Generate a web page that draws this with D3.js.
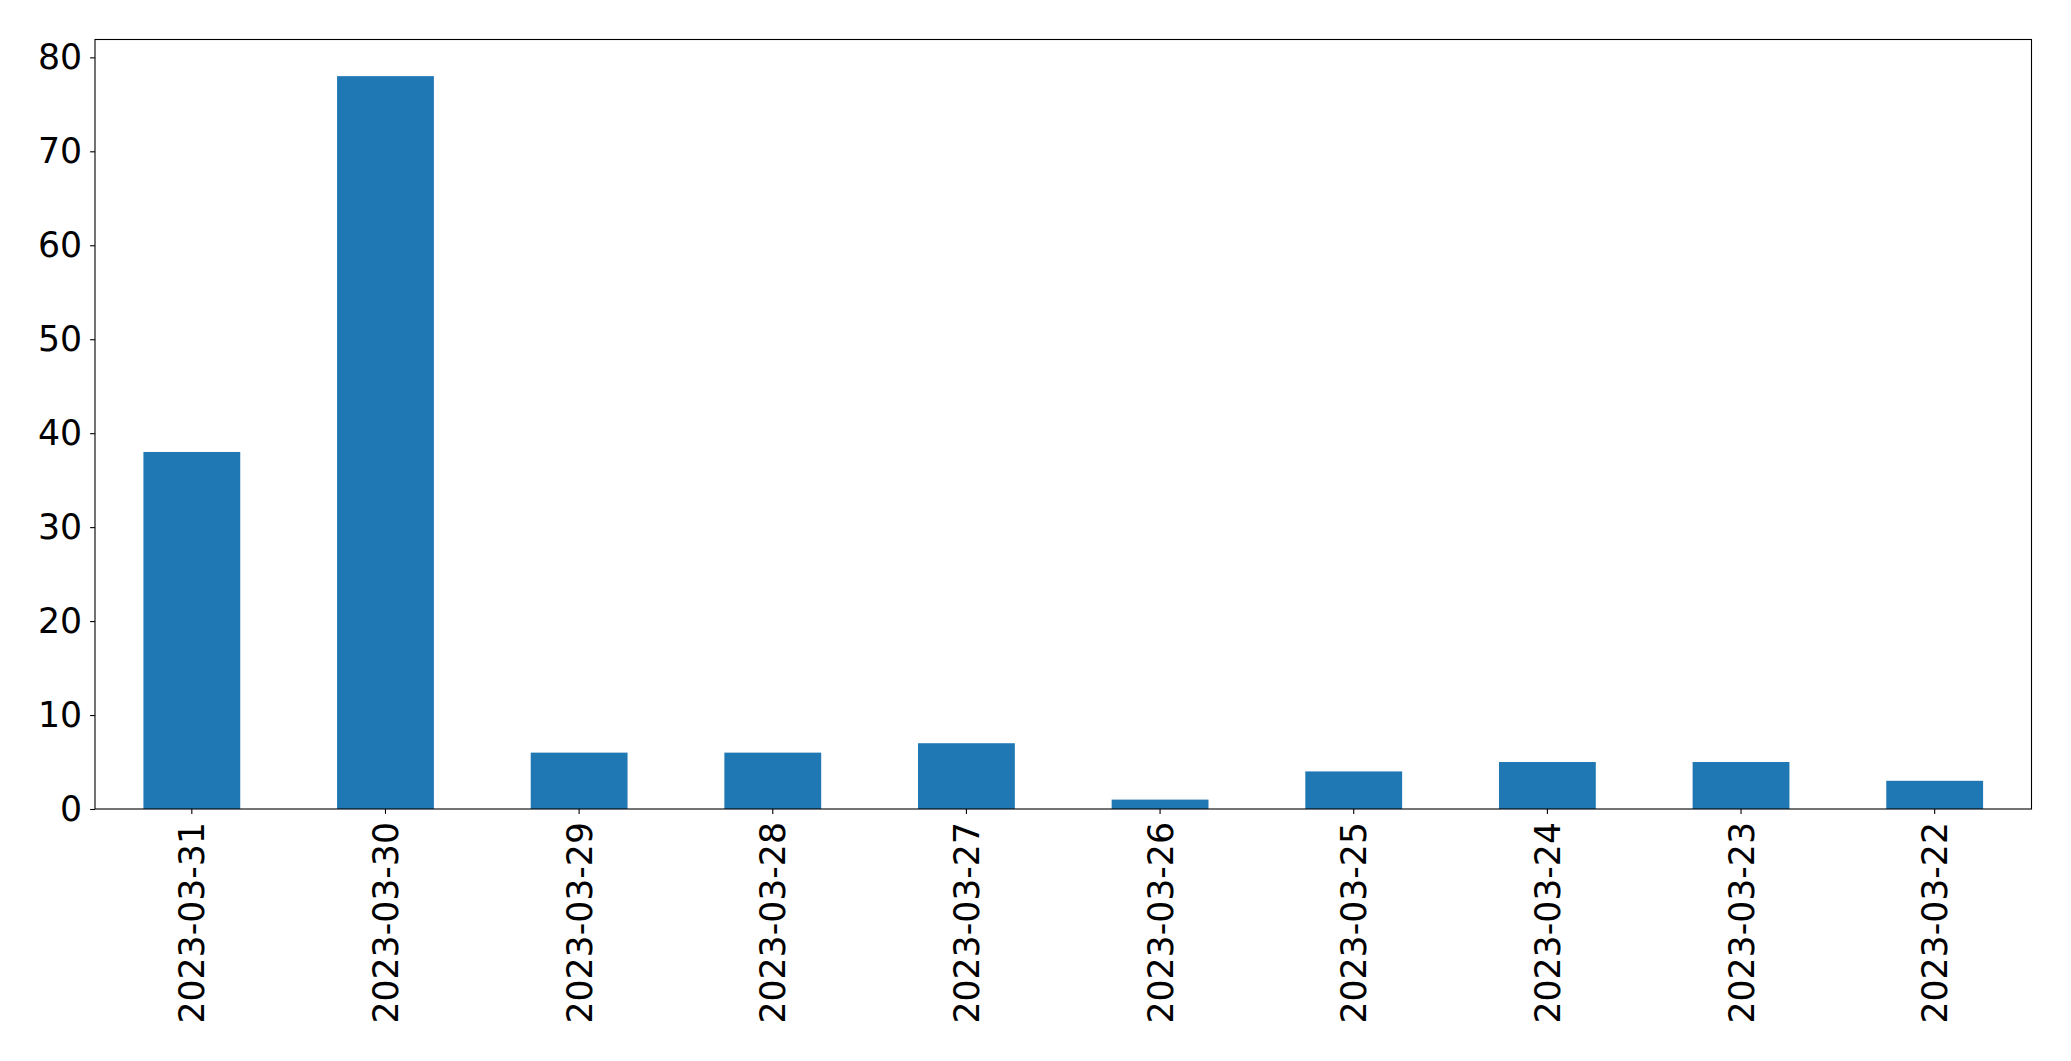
<!DOCTYPE html>
<html>
<head>
<meta charset="utf-8">
<script src="https://cdn.jsdelivr.net/npm/d3@7"></script>
<style>
  html, body { margin: 0; padding: 0; background: #fff; }
  svg { display: block; }
  text { font-family: "DejaVu Sans", sans-serif; fill: #000; }
</style>
</head>
<body>
<svg id="chart" width="2071" height="1061"></svg>
<script>
const categories = ["2023-03-31", "2023-03-30", "2023-03-29", "2023-03-28", "2023-03-27",
                    "2023-03-26", "2023-03-25", "2023-03-24", "2023-03-23", "2023-03-22"];
const values = [38, 78, 6, 6, 7, 1, 4, 5, 5, 3];
const yTicks = [0, 10, 20, 30, 40, 50, 60, 70, 80];

(function () {
const plotLeft = 95, plotRight = 2031.5, plotTop = 39.5, plotBottom = 809;
const fontSize = 34.7;

const svg = d3.select("#chart");

const x = d3.scaleBand()
  .domain(categories)
  .range([plotLeft, plotRight])
  .paddingInner(0.5)
  .paddingOuter(0.25);

const yMax = d3.max(values) * 1.05;
const y = d3.scaleLinear().domain([0, yMax]).range([plotBottom, plotTop]);

// bars
svg.append("g")
  .selectAll("rect")
  .data(values)
  .join("rect")
  .attr("x", (d, i) => x(categories[i]))
  .attr("width", x.bandwidth())
  .attr("y", d => y(d))
  .attr("height", d => y(0) - y(d))
  .attr("fill", "#1f77b4");

// y axis
const yAxis = d3.axisLeft(y).tickValues(yTicks).tickSize(4.9).tickPadding(8);
const gy = svg.append("g").attr("transform", `translate(${plotLeft},0)`).call(yAxis);
gy.select(".domain").remove();
gy.selectAll(".tick line").attr("stroke", "#000").attr("stroke-width", 1.1);
gy.selectAll(".tick text")
  .style("font-size", fontSize + "px")
  .style("font-family", "DejaVu Sans")
  .attr("fill", "#000");

// x axis
const xAxis = d3.axisBottom(x).tickSize(4.9).tickPadding(0);
const gx = svg.append("g").attr("transform", `translate(0,${plotBottom})`).call(xAxis);
gx.select(".domain").remove();
gx.selectAll(".tick line").attr("stroke", "#000").attr("stroke-width", 1.1);
gx.selectAll(".tick text")
  .style("font-size", fontSize + "px")
  .style("font-family", "DejaVu Sans")
  .attr("fill", "#000")
  .attr("text-anchor", "end")
  .attr("transform", "translate(0,13) rotate(-90)")
  .attr("x", 0)
  .attr("y", 0)
  .attr("dy", "0.36em");

// frame (spines)
svg.append("rect")
  .attr("x", plotLeft).attr("y", plotTop)
  .attr("width", plotRight - plotLeft).attr("height", plotBottom - plotTop)
  .attr("fill", "none")
  .attr("stroke", "#000")
  .attr("stroke-width", 1.1);
})();
</script>
</body>
</html>
